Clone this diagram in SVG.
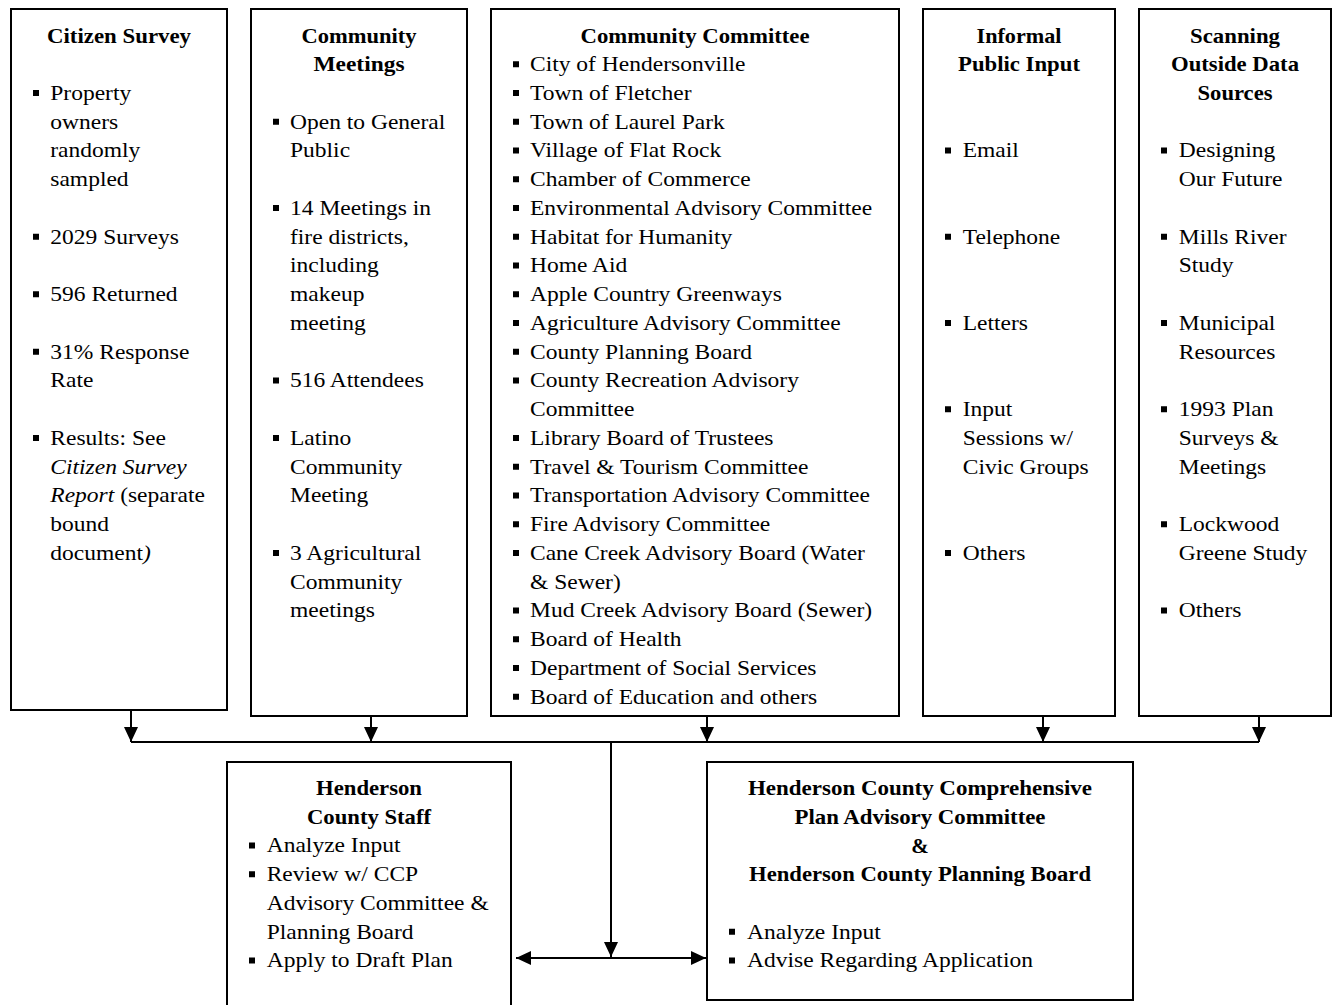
<svg xmlns="http://www.w3.org/2000/svg" width="1335" height="1005" viewBox="0 0 1335 1005">
<style>
.box{fill:#fff;stroke:#000;stroke-width:2}
.t{font-family:"Liberation Serif","Times New Roman",serif;font-size:21px;fill:#000}
.h{font-weight:bold;text-anchor:middle}
.i{font-style:italic}
.b{fill:#000}
.c{stroke:#000;stroke-width:2;fill:none}
</style>
<defs>
<marker id="ah" markerUnits="userSpaceOnUse" markerWidth="16" markerHeight="14" refX="15" refY="7" orient="auto-start-reverse" viewBox="0 0 15 14">
<path d="M0,0 L15,7 L0,14 Z" fill="#000"/>
</marker>
</defs>
<rect width="1335" height="1005" fill="#fff"/>

<g id="connectors">
<line class="c" x1="131" y1="742" x2="1259" y2="742"/>
<line class="c" x1="131" y1="710" x2="131" y2="742" marker-end="url(#ah)"/>
<line class="c" x1="371" y1="716" x2="371" y2="742" marker-end="url(#ah)"/>
<line class="c" x1="707" y1="716" x2="707" y2="742" marker-end="url(#ah)"/>
<line class="c" x1="1043" y1="716" x2="1043" y2="742" marker-end="url(#ah)"/>
<line class="c" x1="1259" y1="716" x2="1259" y2="742" marker-end="url(#ah)"/>
<line class="c" x1="611" y1="742" x2="611" y2="957" marker-end="url(#ah)"/>
<line class="c" x1="516" y1="958" x2="706" y2="958" marker-start="url(#ah)" marker-end="url(#ah)"/>
</g>

<g id="citizen-survey">
<rect class="box" x="11" y="9" width="216" height="701"/>
<text class="t h" x="119" y="42.5" textLength="144" lengthAdjust="spacingAndGlyphs">Citizen Survey</text>
<rect class="b" x="33" y="90" width="6" height="6"/>
<rect class="b" x="33" y="233.75" width="6" height="6"/>
<rect class="b" x="33" y="291.25" width="6" height="6"/>
<rect class="b" x="33" y="348.75" width="6" height="6"/>
<rect class="b" x="33" y="435" width="6" height="6"/>
<g transform="matrix(1.12 0 0 1 -6.04 0)">
<text class="t" x="50.3" y="100">Property</text>
<text class="t" x="50.3" y="128.75">owners</text>
<text class="t" x="50.3" y="157.5">randomly</text>
<text class="t" x="50.3" y="186.25">sampled</text>
<text class="t" x="50.3" y="243.75">2029 Surveys</text>
<text class="t" x="50.3" y="301.25">596 Returned</text>
<text class="t" x="50.3" y="358.75">31% Response</text>
<text class="t" x="50.3" y="387.5">Rate</text>
<text class="t" x="50.3" y="445">Results: See</text>
<text class="t i" x="50.3" y="473.75">Citizen Survey</text>
<text class="t" x="50.3" y="502.5"><tspan class="i">Report</tspan> (separate</text>
<text class="t" x="50.3" y="531.25">bound</text>
<text class="t" x="50.3" y="560">document<tspan class="i">)</tspan></text>
</g>
</g>

<g id="community-meetings">
<rect class="box" x="251" y="9" width="216" height="707"/>
<text class="t h" x="359" y="42.5" textLength="115" lengthAdjust="spacingAndGlyphs">Community</text>
<text class="t h" x="359" y="71.25" textLength="91" lengthAdjust="spacingAndGlyphs">Meetings</text>
<rect class="b" x="273" y="118.75" width="6" height="6"/>
<rect class="b" x="273" y="205" width="6" height="6"/>
<rect class="b" x="273" y="377.5" width="6" height="6"/>
<rect class="b" x="273" y="435" width="6" height="6"/>
<rect class="b" x="273" y="550" width="6" height="6"/>
<g transform="matrix(1.12 0 0 1 -34.8 0)">
<text class="t" x="290" y="128.75">Open to General</text>
<text class="t" x="290" y="157.5">Public</text>
<text class="t" x="290" y="215">14 Meetings in</text>
<text class="t" x="290" y="243.75">fire districts,</text>
<text class="t" x="290" y="272.5">including</text>
<text class="t" x="290" y="301.25">makeup</text>
<text class="t" x="290" y="330">meeting</text>
<text class="t" x="290" y="387.5">516 Attendees</text>
<text class="t" x="290" y="445">Latino</text>
<text class="t" x="290" y="473.75">Community</text>
<text class="t" x="290" y="502.5">Meeting</text>
<text class="t" x="290" y="560">3 Agricultural</text>
<text class="t" x="290" y="588.75">Community</text>
<text class="t" x="290" y="617.5">meetings</text>
</g>
</g>

<g id="community-committee">
<rect class="box" x="491" y="9" width="408" height="707"/>
<text class="t h" x="695" y="42.5" textLength="229" lengthAdjust="spacingAndGlyphs">Community Committee</text>
<rect class="b" x="513" y="61.25" width="6" height="6"/>
<rect class="b" x="513" y="90" width="6" height="6"/>
<rect class="b" x="513" y="118.75" width="6" height="6"/>
<rect class="b" x="513" y="147.5" width="6" height="6"/>
<rect class="b" x="513" y="176.25" width="6" height="6"/>
<rect class="b" x="513" y="205" width="6" height="6"/>
<rect class="b" x="513" y="233.75" width="6" height="6"/>
<rect class="b" x="513" y="262.5" width="6" height="6"/>
<rect class="b" x="513" y="291.25" width="6" height="6"/>
<rect class="b" x="513" y="320" width="6" height="6"/>
<rect class="b" x="513" y="348.75" width="6" height="6"/>
<rect class="b" x="513" y="377.5" width="6" height="6"/>
<rect class="b" x="513" y="435" width="6" height="6"/>
<rect class="b" x="513" y="463.75" width="6" height="6"/>
<rect class="b" x="513" y="492.5" width="6" height="6"/>
<rect class="b" x="513" y="521.25" width="6" height="6"/>
<rect class="b" x="513" y="550" width="6" height="6"/>
<rect class="b" x="513" y="607.5" width="6" height="6"/>
<rect class="b" x="513" y="636.25" width="6" height="6"/>
<rect class="b" x="513" y="665" width="6" height="6"/>
<rect class="b" x="513" y="693.75" width="6" height="6"/>
<g transform="matrix(1.12 0 0 1 -63.6 0)">
<text class="t" x="530" y="71.25">City of Hendersonville</text>
<text class="t" x="530" y="100">Town of Fletcher</text>
<text class="t" x="530" y="128.75">Town of Laurel Park</text>
<text class="t" x="530" y="157.5">Village of Flat Rock</text>
<text class="t" x="530" y="186.25">Chamber of Commerce</text>
<text class="t" x="530" y="215">Environmental Advisory Committee</text>
<text class="t" x="530" y="243.75">Habitat for Humanity</text>
<text class="t" x="530" y="272.5">Home Aid</text>
<text class="t" x="530" y="301.25">Apple Country Greenways</text>
<text class="t" x="530" y="330">Agriculture Advisory Committee</text>
<text class="t" x="530" y="358.75">County Planning Board</text>
<text class="t" x="530" y="387.5">County Recreation Advisory</text>
<text class="t" x="530" y="416.25">Committee</text>
<text class="t" x="530" y="445">Library Board of Trustees</text>
<text class="t" x="530" y="473.75">Travel &amp; Tourism Committee</text>
<text class="t" x="530" y="502.5">Transportation Advisory Committee</text>
<text class="t" x="530" y="531.25">Fire Advisory Committee</text>
<text class="t" x="530" y="560">Cane Creek Advisory Board (Water</text>
<text class="t" x="530" y="588.75">&amp; Sewer)</text>
<text class="t" x="530" y="617.5">Mud Creek Advisory Board (Sewer)</text>
<text class="t" x="530" y="646.25">Board of Health</text>
<text class="t" x="530" y="675">Department of Social Services</text>
<text class="t" x="530" y="703.75">Board of Education and others</text>
</g>
</g>

<g id="informal-public-input">
<rect class="box" x="923" y="9" width="192" height="707"/>
<text class="t h" x="1019" y="42.5" textLength="85" lengthAdjust="spacingAndGlyphs">Informal</text>
<text class="t h" x="1019" y="71.25" textLength="122" lengthAdjust="spacingAndGlyphs">Public Input</text>
<rect class="b" x="945" y="147.5" width="6" height="6"/>
<rect class="b" x="945" y="233.75" width="6" height="6"/>
<rect class="b" x="945" y="320" width="6" height="6"/>
<rect class="b" x="945" y="406.25" width="6" height="6"/>
<rect class="b" x="945" y="550" width="6" height="6"/>
<g transform="matrix(1.12 0 0 1 -115.5 0)">
<text class="t" x="962.7" y="157.5">Email</text>
<text class="t" x="962.7" y="243.75">Telephone</text>
<text class="t" x="962.7" y="330">Letters</text>
<text class="t" x="962.7" y="416.25">Input</text>
<text class="t" x="962.7" y="445">Sessions w/</text>
<text class="t" x="962.7" y="473.75">Civic Groups</text>
<text class="t" x="962.7" y="560">Others</text>
</g>
</g>

<g id="scanning-outside-data">
<rect class="box" x="1139" y="9" width="192" height="707"/>
<text class="t h" x="1235" y="42.5" textLength="90" lengthAdjust="spacingAndGlyphs">Scanning</text>
<text class="t h" x="1235" y="71.25" textLength="128" lengthAdjust="spacingAndGlyphs">Outside Data</text>
<text class="t h" x="1235" y="100" textLength="75" lengthAdjust="spacingAndGlyphs">Sources</text>
<rect class="b" x="1161" y="147.5" width="6" height="6"/>
<rect class="b" x="1161" y="233.75" width="6" height="6"/>
<rect class="b" x="1161" y="320" width="6" height="6"/>
<rect class="b" x="1161" y="406.25" width="6" height="6"/>
<rect class="b" x="1161" y="521.25" width="6" height="6"/>
<rect class="b" x="1161" y="607.5" width="6" height="6"/>
<g transform="matrix(1.12 0 0 1 -141.4 0)">
<text class="t" x="1178.7" y="157.5">Designing</text>
<text class="t" x="1178.7" y="186.25">Our Future</text>
<text class="t" x="1178.7" y="243.75">Mills River</text>
<text class="t" x="1178.7" y="272.5">Study</text>
<text class="t" x="1178.7" y="330">Municipal</text>
<text class="t" x="1178.7" y="358.75">Resources</text>
<text class="t" x="1178.7" y="416.25">1993 Plan</text>
<text class="t" x="1178.7" y="445">Surveys &amp;</text>
<text class="t" x="1178.7" y="473.75">Meetings</text>
<text class="t" x="1178.7" y="531.25">Lockwood</text>
<text class="t" x="1178.7" y="560">Greene Study</text>
<text class="t" x="1178.7" y="617.5">Others</text>
</g>
</g>

<g id="county-staff">
<rect class="box" x="227" y="762" width="284" height="260"/>
<text class="t h" x="369" y="795" textLength="106" lengthAdjust="spacingAndGlyphs">Henderson</text>
<text class="t h" x="369" y="823.75" textLength="124" lengthAdjust="spacingAndGlyphs">County Staff</text>
<rect class="b" x="249" y="842.5" width="6" height="6"/>
<rect class="b" x="249" y="871.25" width="6" height="6"/>
<rect class="b" x="249" y="957.5" width="6" height="6"/>
<g transform="matrix(1.12 0 0 1 -32 0)">
<text class="t" x="266.7" y="852.5">Analyze Input</text>
<text class="t" x="266.7" y="881.25">Review w/ CCP</text>
<text class="t" x="266.7" y="910">Advisory Committee &amp;</text>
<text class="t" x="266.7" y="938.75">Planning Board</text>
<text class="t" x="266.7" y="967.5">Apply to Draft Plan</text>
</g>
</g>

<g id="advisory-committee-planning-board">
<rect class="box" x="707" y="762" width="426" height="238"/>
<text class="t h" x="920" y="795" textLength="344" lengthAdjust="spacingAndGlyphs">Henderson County Comprehensive</text>
<text class="t h" x="920" y="823.75" textLength="251" lengthAdjust="spacingAndGlyphs">Plan Advisory Committee</text>
<text class="t h" x="920" y="852.5">&amp;</text>
<text class="t h" x="920" y="881.25" textLength="342" lengthAdjust="spacingAndGlyphs">Henderson County Planning Board</text>
<rect class="b" x="729" y="928.75" width="6" height="6"/>
<rect class="b" x="729" y="957.5" width="6" height="6"/>
<g transform="matrix(1.12 0 0 1 -89.64 0)">
<text class="t" x="747" y="938.75">Analyze Input</text>
<text class="t" x="747" y="967.5">Advise Regarding Application</text>
</g>
</g>
</svg>
